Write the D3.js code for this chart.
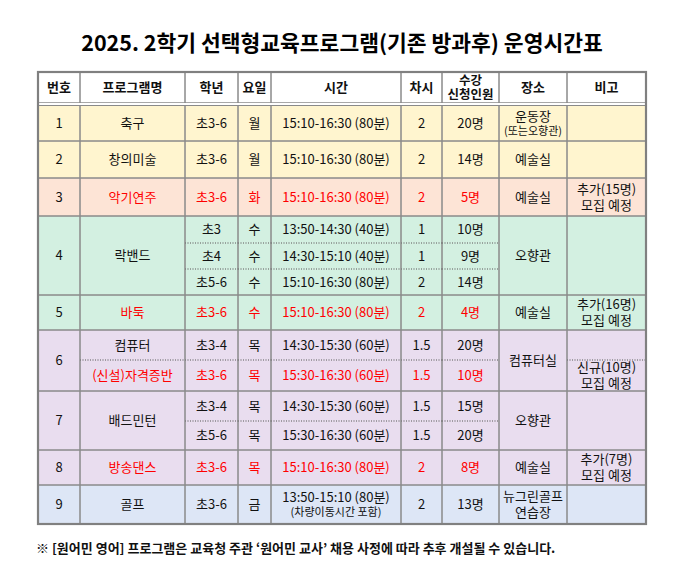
<!DOCTYPE html>
<html><head><meta charset="utf-8">
<script src="https://cdn.jsdelivr.net/npm/d3@7"></script>
<style>body{margin:0;background:#fff}</style></head>
<body><svg id="c" width="685" height="578"></svg>
<script>
const title = "2025. 2학기 선택형교육프로그램(기존 방과후) 운영시간표";
const footnote = "※ [원어민 영어] 프로그램은 교육청 주관 ‘원어민 교사’ 채용 사정에 따라 추후 개설될 수 있습니다.";
const headers = ["번호","프로그램명","학년","요일","시간","차시","수강\n신청인원","장소","비고"];
const nums = ["1","2","3","4","5","6","7","8","9"];
const programs = [["축구"],["창의미술"],["악기연주"],["락밴드"],["바둑"],["컴퓨터","(신설)자격증반"],["배드민턴"],["방송댄스"],["골프"]];
const grades = [["초3-6"],["초3-6"],["초3-6"],["초3","초4","초5-6"],["초3-6"],["초3-4","초3-6"],["초3-4","초5-6"],["초3-6"],["초3-6"]];
const days = [["월"],["월"],["화"],["수","수","수"],["수"],["목","목"],["목","목"],["목"],["금"]];
const times = [["15:10-16:30 (80분)"],["15:10-16:30 (80분)"],["15:10-16:30 (80분)"],
  ["13:50-14:30 (40분)","14:30-15:10 (40분)","15:10-16:30 (80분)"],["15:10-16:30 (80분)"],
  ["14:30-15:30 (60분)","15:30-16:30 (60분)"],["14:30-15:30 (60분)","15:30-16:30 (60분)"],
  ["15:10-16:30 (80분)"],["13:50-15:10 (80분)\n(차량이동시간 포함)"]];
const periods = [["2"],["2"],["2"],["1","1","2"],["2"],["1.5","1.5"],["1.5","1.5"],["2"],["2"]];
const counts = [["20명"],["14명"],["5명"],["10명","9명","14명"],["4명"],["20명","10명"],["15명","20명"],["8명"],["13명"]];
const places = [["운동장\n(또는오향관)"],["예술실"],["예술실"],["오향관"],["예술실"],["컴퓨터실"],["오향관"],["예술실"],["뉴그린골프\n연습장"]];
const notes = [[""],[""],["추가(15명)\n모집  예정"],[""],["추가(16명)\n모집  예정"],["","신규(10명)\n모집  예정"],[""],["추가(7명)\n모집  예정"],[""]];
const redRows = [[false],[false],[true],[false,false,false],[true],[false,true],[false,false],[true],[false]];
const smallSecond = {"운동장\n(또는오향관)":true,"13:50-15:10 (80분)\n(차량이동시간 포함)":true};

// layout
const colors = ["#fff5cf","#fff5cf","#fde4d6","#d3f0e1","#d3f0e1","#e9ddef","#e9ddef","#e9ddef","#dde6f6"];
const colEdges = [38,80,185,238,271,401,442,499,567,646];
const edges = [72,103,141,178,216,243,269,295,330,360,391,421,450,485,524];
const svg = d3.select("#c");
const FONT = "'Noto Sans CJK KR','Noto Sans',sans-serif";
const x = i => colEdges[i];
svg.append("text").attr("x",342).attr("y",51).attr("text-anchor","middle")
  .attr("font-family",FONT).attr("font-weight","bold").attr("font-size",21.5).text(title);

const cols = [nums.map(n=>[n]),programs,grades,days,times,periods,counts,places,notes];
let cells=[]; let start=1;
nums.forEach((n,g)=>{
  const nsub = Math.max(...cols.map(c=>c[g].length));
  cols.forEach((c,ci)=>{
    const arr=c[g];
    arr.forEach((t,k)=>{
      const r0 = arr.length===1? start : start+k;
      const r1 = arr.length===1? start+nsub : start+k+1;
      const red = ci===0||ci===7||ci===8 ? false : (redRows[g].length===1?redRows[g][0]:redRows[g][r0-start]);
      cells.push({ci,r0,r1,t,red,fill:colors[g],g0:start,g1:start+nsub});
    });
  });
  start+=nsub;
});
headers.forEach((h,ci)=>cells.push({ci,r0:0,r1:1,t:h,red:false,fill:"#fff",g0:0,g1:1,head:true}));

const gc = svg.append("g");
gc.selectAll("rect").data(cells).join("rect")
  .attr("x",d=>x(d.ci)).attr("y",d=>edges[d.r0]).attr("width",d=>x(d.ci+1)-x(d.ci))
  .attr("height",d=>edges[d.r1]-edges[d.r0]).attr("fill",d=>d.fill);
const lines=[];
cells.forEach(d=>{
  const x0=x(d.ci),x1=x(d.ci+1),y0=edges[d.r0],y1=edges[d.r1];
  lines.push({x1:x0,x2:x0,y1:y0,y2:y1,dot:false});
  lines.push({x1:x1,x2:x1,y1:y0,y2:y1,dot:false});
  lines.push({x1:x0,x2:x1,y1:y0,y2:y0,dot:d.r0!==d.g0});
  lines.push({x1:x0,x2:x1,y1:y1,y2:y1,dot:d.r1!==d.g1});
});
gc.selectAll("line").data(lines.sort((a,b)=>a.dot-b.dot)).join("line")
  .attr("x1",d=>d.x1).attr("x2",d=>d.x2).attr("y1",d=>d.y1).attr("y2",d=>d.y2)
  .attr("stroke",d=>d.dot?"#777":"#8a8a8a").attr("stroke-width",d=>d.dot?0.8:1)
  .attr("stroke-dasharray",d=>d.dot?"1,1.5":null);
svg.append("rect").attr("x",38).attr("y",103).attr("width",608).attr("height",2).attr("fill","#fff");
svg.append("line").attr("x1",38).attr("x2",646).attr("y1",105.5).attr("y2",105.5).attr("stroke","#8a8a8a");
svg.append("rect").attr("x",38).attr("y",72).attr("width",608).attr("height",452)
  .attr("fill","none").attr("stroke","#808080").attr("stroke-width",2.2);

const tg = svg.append("g").attr("font-family",FONT);
cells.forEach(d=>{
  if(!d.t) return;
  const ls=d.t.split("\n");
  const small = smallSecond[d.t];
  const cx=(x(d.ci)+x(d.ci+1))/2;
  let cy=(edges[d.r0]+edges[d.r1])/2 + (d.r0===1?1.5:0);
  let fs = 13, lh = 16;
  if(d.head && ls.length>1){lh=14; fs=12.5;}
  if(small) lh=15;
  const n=ls.length;
  ls.forEach((l,i)=>{
    tg.append("text").attr("x",cx).attr("y",cy+(i-(n-1)/2)*lh).attr("dy","0.36em")
      .attr("text-anchor","middle").attr("font-size",(small&&i===1)?11:fs)
      .attr("font-weight",d.head?"bold":"normal")
      .attr("fill",d.red?"#ff0000":"#111").text(l);
  });
});
svg.append("text").attr("x",36).attr("y",553).attr("font-family",FONT).attr("font-size",13)
  .attr("font-weight","bold").attr("fill","#111").text(footnote);
</script></body></html>
